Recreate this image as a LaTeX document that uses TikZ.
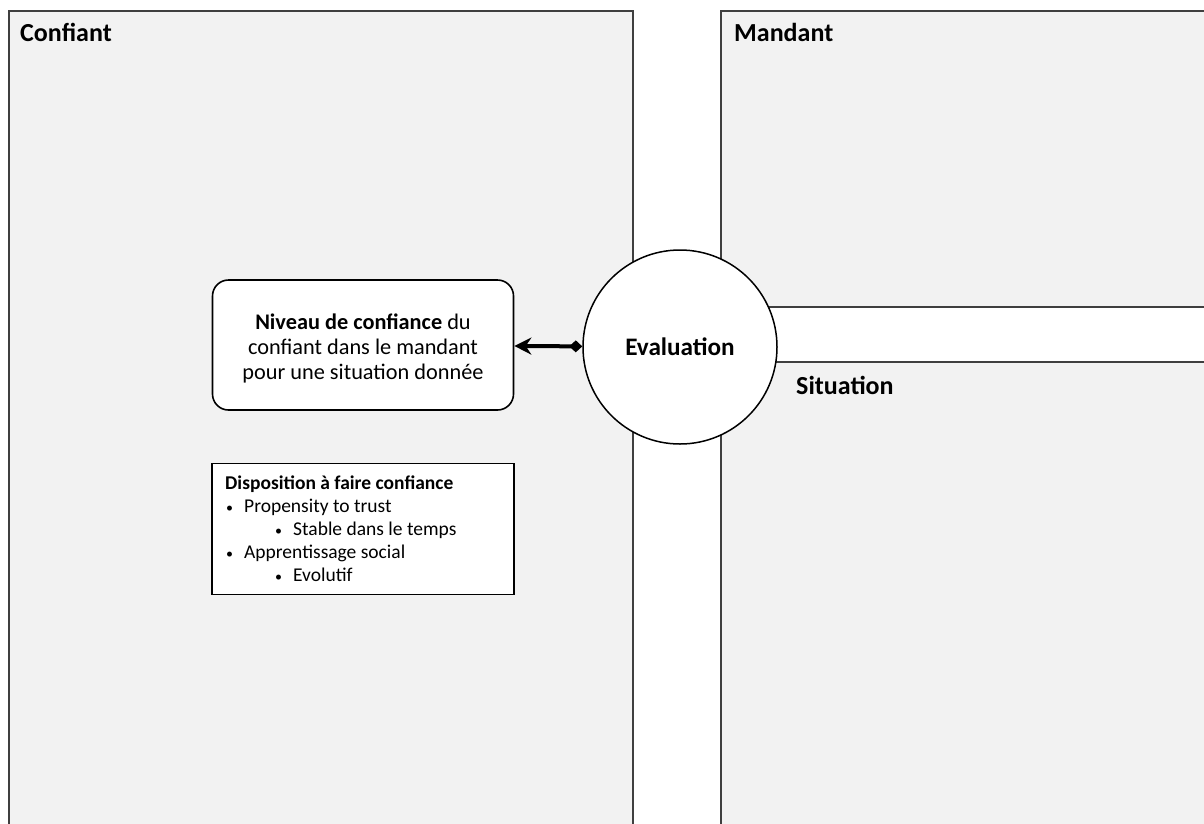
\documentclass[tikz,border=0pt]{standalone}
\usepackage{fontspec}
\setmainfont{Carlito}
\usetikzlibrary{arrows,arrows.meta}
\usetikzlibrary{positioning}
\definecolor{panelgray}{HTML}{F2F2F2}
\definecolor{edgegray}{HTML}{3F3F3F}
\newcommand{\smallbullet}{{\fontsize{14}{14}\selectfont\textbullet}}
\begin{document}
\begin{tikzpicture}[x=1pt,y=-1pt,
    panel/.style={draw=edgegray,line width=2pt},
    title node/.style={font=\bfseries\fontsize{26}{30}\selectfont,inner sep=0pt},
    main node/.style={circle,draw=black,line width=1.5pt,fill=white,minimum size=194pt,font=\bfseries\fontsize{25.2}{30}\selectfont},
    level node/.style={rectangle,rounded corners=16pt,draw=black,line width=1.6pt,fill=white,minimum width=301pt,minimum height=130pt},
    list node/.style={rectangle,draw=black,line width=1.6pt,fill=white,minimum width=302pt,minimum height=131pt,inner sep=0pt}]
  \useasboundingbox (0,0) rectangle (1204,823);
  \fill[white] (0,0) rectangle (1204,823);
  \begin{scope}
    % panels
    \fill[panelgray] (9,11) rectangle (633,835);
    \fill[panelgray] (721,11) rectangle (1215,307);
    \fill[panelgray] (721,362) rectangle (1215,835);
    \draw[panel] (9,835) -- (9,11) -- (633,11) -- (633,835);
    \draw[panel] (1215,11) -- (721,11) -- (721,307) -- (1215,307);
    \draw[panel] (1215,362) -- (721,362) -- (721,835);
    \node[title node,anchor=west] (confiant) at (20,32) {Confiant};
    \node[title node,anchor=west] (mandant) at (734,32) {Mandant};
    \node[title node,anchor=west] (situation) at (796,385) {Situation};

    \node[main node] (eval) at (680,347) {Evaluation};
    \node[level node] (niveau) at (363,345) {};
    \node[align=center,inner sep=0pt,font=\fontsize{22.3}{25}\selectfont] (niveautext) at (363,348)
      {\textbf{Niveau de confiance} du\\confiant dans le mandant\\pour une situation donnée};
    \node[list node] (dispo) at (363,529) {};
    \node[anchor=north west,inner sep=0pt,align=left,font=\fontsize{19.5}{23}\selectfont] (dispotext) at (225,476)
      {\textbf{Disposition à faire confiance}\\
       \hspace*{1pt}\smallbullet\hspace{11pt}Propensity to trust\\
       \hspace*{50pt}\smallbullet\hspace{11pt}Stable dans le temps\\
       \hspace*{1pt}\smallbullet\hspace{11pt}Apprentissage social\\
       \hspace*{50pt}\smallbullet\hspace{11pt}Evolutif};
    \path[{Stealth[length=17pt,width=17pt]}-{Diamond[length=13pt,width=12pt]},line width=4pt] (niveau) edge (eval);
  \end{scope}
\end{tikzpicture}
\end{document}
